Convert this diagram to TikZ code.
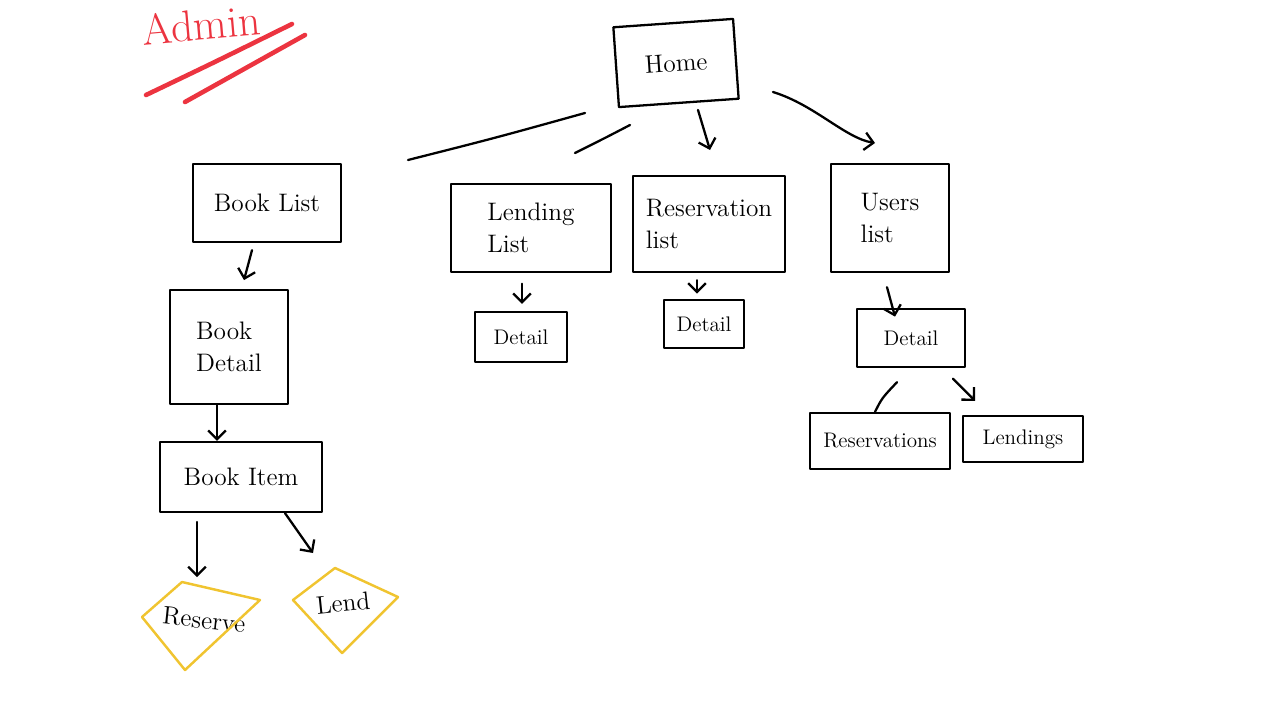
\documentclass[tikz,border=0pt]{standalone}
\usepackage{xcolor}
\usepackage{tikz}
\usetikzlibrary{positioning,arrows.meta}
\definecolor{markerred}{RGB}{236,52,64}
\definecolor{markeryellow}{RGB}{240,196,48}

\begin{document}
\begin{tikzpicture}[x=0.02cm,y=-0.02cm,
  pen/.style={line width=1.3pt, line cap=round, line join=round},
  page/.style={draw, pen, align=left, font=\Large},
  small/.style={draw, pen, font=\large},
  arr/.style={pen, -{Straight Barb[length=5pt,width=10pt]}},
  hl/.style={draw=markeryellow, line width=1.4pt, line join=round}]
\useasboundingbox (0,0) rectangle (1280,713);

% Title
\node[markerred, font=\Huge, rotate=5] (admin) at (201,25) {Admin};
\draw[markerred, line width=2.6pt, line cap=round] (146,95) .. controls (215,62) .. (292,24);
\draw[markerred, line width=2.6pt, line cap=round] (185,102) .. controls (245,68) .. (305,35);

% Top level
\node[page, minimum width=2.4cm, minimum height=1.6cm, rotate=4] (home) at (676,63) {Home};

\node[page, minimum width=2.96cm, minimum height=1.56cm] (booklist) at (267,203) {Book List};
\node[page, minimum width=3.2cm, minimum height=1.76cm] (lendlist) at (531,228) {Lending\\List};
\node[page, minimum width=3.04cm, minimum height=1.92cm] (resvlist) at (709,224) {Reservation\\list};
\node[page, minimum width=2.36cm, minimum height=2.16cm] (userlist) at (890,218) {Users\\list};

% Home connectors
\coordinate (h1) at (585,113);
\coordinate (h1e) at (408,160);
\coordinate (h2) at (630,125);
\coordinate (h2e) at (575,153);
\coordinate (h3) at (698,110);
\coordinate (h3e) at (710,150);
\coordinate (h4) at (773,92);
\coordinate (h4e) at (875,143);
\draw[pen] (h1) .. controls (495,138) .. (h1e);
\draw[pen] (h2) .. controls (605,138) .. (h2e);
\draw[arr] (h3) -- (h3e);
\draw[arr] (h4) .. controls (815,105) and (845,138) .. (h4e);

% Book branch
\node[page, minimum width=2.36cm, minimum height=2.28cm] (bookdetail) at (229,347) {Book\\Detail};
\node[page, minimum width=3.24cm, minimum height=1.4cm] (bookitem) at (241,477) {Book Item};
\draw[arr] ([xshift=-0.3cm,yshift=-4pt]booklist.south) -- ([xshift=0.3cm,yshift=5pt]bookdetail.north);
\draw[arr] (bookdetail.south -| 217,0) -- (bookitem.north -| 217,0);

\node[font=\Large, rotate=-6] (reserve) at (204,620) {Reserve};
\node[font=\Large, rotate=6] (lend) at (343,603) {Lend};
\draw[hl] (142,617) -- (182,582) -- (260,600) -- (185,670) -- cycle;
\draw[hl] (293,600) -- (335,568) -- (398,597) -- (342,653) -- cycle;
\coordinate (reservetop) at (197,577);
\coordinate (lendtop) at (313,553);
\draw[arr] ([yshift=-5pt]bookitem.south -| 197,0) -- (reservetop);
\draw[arr] (bookitem.south -| 285,0) -- (lendtop);

% Detail pages
\node[small, minimum width=1.84cm, minimum height=1.0cm] (lenddetail) at (521,337) {Detail};
\node[small, minimum width=1.6cm, minimum height=0.96cm] (resvdetail) at (704,324) {Detail};
\node[small, minimum width=2.16cm, minimum height=1.16cm] (userdetail) at (911,338) {Detail};
\draw[arr] ([yshift=-6pt]lendlist.south -| 522,0) -- ([yshift=4pt]lenddetail.north -| 522,0);
\draw[arr] ([yshift=-4pt]resvlist.south -| 697,0) -- ([yshift=3pt]resvdetail.north -| 697,0);
\draw[arr] ([yshift=-8pt]userlist.south -| 887,0) -- ([yshift=-5pt]userdetail.north -| 895,0);

% User detail children
\node[small, minimum width=2.8cm, minimum height=1.12cm] (userresv) at (880,441) {Reservations};
\node[small, minimum width=2.4cm, minimum height=0.92cm] (userlend) at (1023,439) {Lendings};
\draw[pen] ([yshift=-8pt]userdetail.south -| 897,0) .. controls (882,398) .. (userresv.north -| 875,0);
\draw[arr] ([yshift=-6pt]userdetail.south -| 953,0) -- ([yshift=8pt]userlend.north -| 975,0);
\end{tikzpicture}
\end{document}
